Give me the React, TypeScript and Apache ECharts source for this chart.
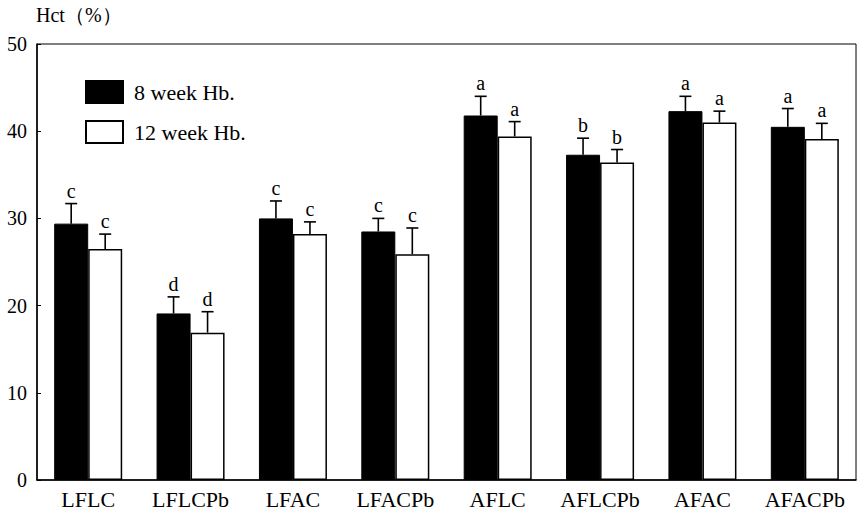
import React, { useEffect, useRef } from "react";
import * as echarts from "echarts";

const categories = ["LFLC", "LFLCPb", "LFAC", "LFACPb", "AFLC", "AFLCPb", "AFAC", "AFACPb"];
const week8 = [29.4, 19.1, 30.0, 28.5, 41.8, 37.3, 42.3, 40.5];
const week8Err = [31.7, 21.0, 32.0, 30.0, 44.0, 39.2, 44.0, 42.6];
const week8Letters = ["c", "d", "c", "c", "a", "b", "a", "a"];
const week12 = [26.5, 16.9, 28.2, 25.9, 39.4, 36.4, 41.0, 39.1];
const week12Err = [28.2, 19.3, 29.6, 28.9, 41.1, 37.9, 42.3, 40.9];
const week12Letters = ["c", "d", "c", "c", "a", "b", "a", "a"];
const yTicks = { min: 0, max: 50, interval: 10 };
const seriesNames = ["8 week Hb.", "12 week Hb."];

const FONT = "Liberation Serif";
const BAR_W = 34;

function errSeries(name: string, vals: number[], errs: number[], letters: string[], side: number) {
  return {
    type: "custom",
    name,
    z: 5,
    data: vals.map((v, i) => [i, v, errs[i]]),
    encode: { x: 0, y: [1, 2] },
    renderItem: (params: any, api: any) => {
      const i = api.value(0);
      const top = api.coord([i, api.value(1)]);
      const e = api.coord([i, api.value(2)]);
      const x = top[0] + (side * BAR_W) / 2;
      const cap = 6;
      const st = { stroke: "#000", lineWidth: 1.6 };
      return {
        type: "group",
        children: [
          { type: "line", shape: { x1: x, y1: top[1], x2: x, y2: e[1] }, style: st },
          { type: "line", shape: { x1: x - cap, y1: e[1], x2: x + cap, y2: e[1] }, style: st },
          {
            type: "text",
            x,
            y: e[1] - 3,
            style: {
              text: letters[i],
              fill: "#000",
              fontSize: 20,
              fontFamily: FONT,
              align: "center",
              verticalAlign: "bottom",
            },
          },
        ],
      };
    },
  };
}

export default function App() {
  const ref = useRef<HTMLDivElement>(null);
  useEffect(() => {
    if (!ref.current) return;
    const chart = echarts.init(ref.current, null, { renderer: "svg" });
    chart.setOption({
      animation: false,
      backgroundColor: "#fff",
      textStyle: { fontFamily: FONT },
      grid: {
        left: 37,
        right: 1,
        top: 44,
        bottom: 34,
        show: true,
        borderColor: "#000",
        borderWidth: 1,
        backgroundColor: "transparent",
      },
      graphic: [
        {
          type: "text",
          left: 36,
          top: 5,
          style: { text: "Hct（%）", fill: "#000", fontSize: 20, fontFamily: FONT },
        },
      ],
      legend: {
        data: seriesNames,
        orient: "vertical",
        left: 85,
        top: 80,
        padding: 0,
        itemWidth: 37,
        itemHeight: 22,
        itemGap: 16,
        icon: "rect",
        formatter: "{s|{name}}",
        textStyle: {
          fontSize: 22,
          fontFamily: FONT,
          color: "#000",
          padding: [0, 0, 0, 6],
          rich: { s: { fontSize: 22, fontFamily: FONT, color: "#000" } },
        },
      },
      xAxis: {
        type: "category",
        data: categories,
        axisLine: { lineStyle: { color: "#000", width: 1.5 } },
        axisTick: { show: false },
        axisLabel: { color: "#000", fontSize: 22, fontFamily: FONT, margin: 8, interval: 0, hideOverlap: false },
      },
      yAxis: {
        type: "value",
        min: yTicks.min,
        max: yTicks.max,
        interval: yTicks.interval,
        axisLine: { show: true, lineStyle: { color: "#000", width: 1.5 } },
        axisTick: { show: true, inside: true, length: 4, lineStyle: { color: "#000" } },
        axisLabel: { color: "#000", fontSize: 20, fontFamily: FONT, margin: 10 },
        splitLine: { show: false },
      },
      series: [
        {
          type: "bar",
          name: seriesNames[0],
          data: week8,
          barWidth: BAR_W,
          barGap: "0%",
          itemStyle: { color: "#000", borderColor: "#000", borderWidth: 1 },
        },
        {
          type: "bar",
          name: seriesNames[1],
          data: week12,
          barWidth: BAR_W,
          barGap: "0%",
          itemStyle: { color: "#fff", borderColor: "#000", borderWidth: 1.5 },
        },
        errSeries("e8", week8, week8Err, week8Letters, -1),
        errSeries("e12", week12, week12Err, week12Letters, 1),
      ],
    });
    return () => chart.dispose();
  }, []);
  return <div ref={ref} style={{ width: 857, height: 514, position: "absolute", left: 0, top: 0 }} />;
}
